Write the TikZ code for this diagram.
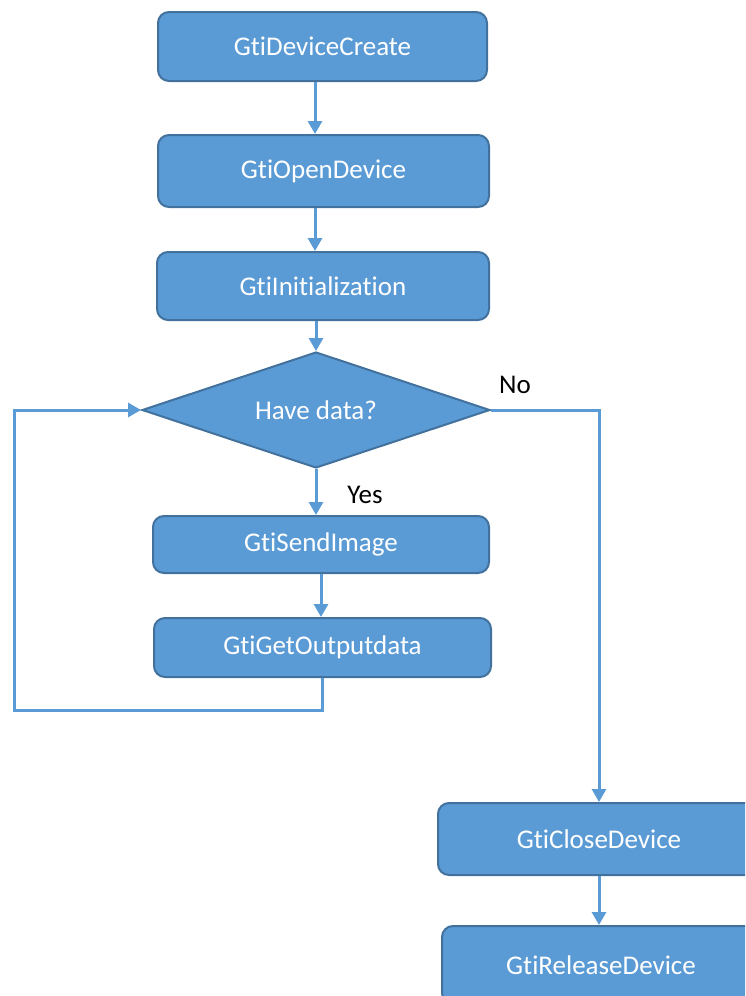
\documentclass[tikz,border=0pt]{standalone}
\usepackage{fontspec}
\setmainfont[RawFeature={-liga,-clig,-dlig}]{Carlito}
\usetikzlibrary{
  shapes.geometric,%
  arrows.meta,%
  positioning
}
\definecolor{boxblue}{HTML}{5B9BD5}
\definecolor{edgeblue}{HTML}{41719C}
\tikzset{>={Triangle[length=13pt,width=14pt]}}
\tikzset{process/.style={rectangle, rounded corners=11pt, draw=edgeblue,
    line width=2pt, fill=boxblue, text=white, inner sep=0pt,
    font=\fontsize{27}{32}\selectfont}}
\tikzset{decision/.style={diamond, aspect=3, draw=edgeblue, line width=2pt,
    fill=boxblue, text=white, inner sep=0pt, minimum width=348pt,
    minimum height=116pt, font=\fontsize{27}{32}\selectfont}}
\tikzset{flow/.style={draw=boxblue, line width=3pt}}
\tikzset{answer/.style={text=black, inner sep=0pt, font=\fontsize{27}{32}\selectfont}}

\begin{document}
\begin{tikzpicture}[x=1pt,y=-1pt]
  \useasboundingbox (0,0) rectangle (745,996);
  \clip (0,0) rectangle (745,996);
  \coordinate (spine) at (315,0);
  % main column
  \node[process, minimum width=329pt, minimum height=69pt] (create) at (322.5,46.5) {GtiDeviceCreate};
  \node[process, minimum width=331pt, minimum height=72pt] (open) at (323.5,171) {GtiOpenDevice};
  \node[process, minimum width=332pt, minimum height=68pt] (init) at (323,286) {GtiInitialization};
  \node[decision] (have) at (316,410) {Have data?};
  \node[process, minimum width=336pt, minimum height=57pt] (send) at (321,544.5) {GtiSendImage};
  \node[process, minimum width=337pt, minimum height=59pt] (output) at (322.5,647.5) {GtiGetOutputdata};
  % right column
  \node[process, minimum width=322pt, minimum height=72pt] (close) at (599,839) {GtiCloseDevice};
  \node[process, minimum width=318pt, minimum height=78pt] (release) at (601,965) {GtiReleaseDevice};
  \coordinate (loopcorner) at (14,710);
  % answers
  \node[answer] (yes) at (365,495) {Yes};
  \node[answer] (no) at (515,385) {No};
  % connectors
  \draw[flow,->] (create.south -| spine) -- (open.north -| spine);
  \draw[flow,->] (open.south -| spine) -- (init.north -| spine);
  \draw[flow,->] (init.south -| have.north) -- (have.north);
  \draw[flow,->] (have.south) -- (send.north -| have.south);
  \draw[flow,->] (send.south) -- (output.north -| send.south);
  \draw[flow,->] (output.south) |- (loopcorner) |- (have.west);
  \draw[flow,->] (have.east) -| (close.north);
  \draw[flow,->] (close.south) -- (release.north -| close.south);
\end{tikzpicture}
\end{document}
